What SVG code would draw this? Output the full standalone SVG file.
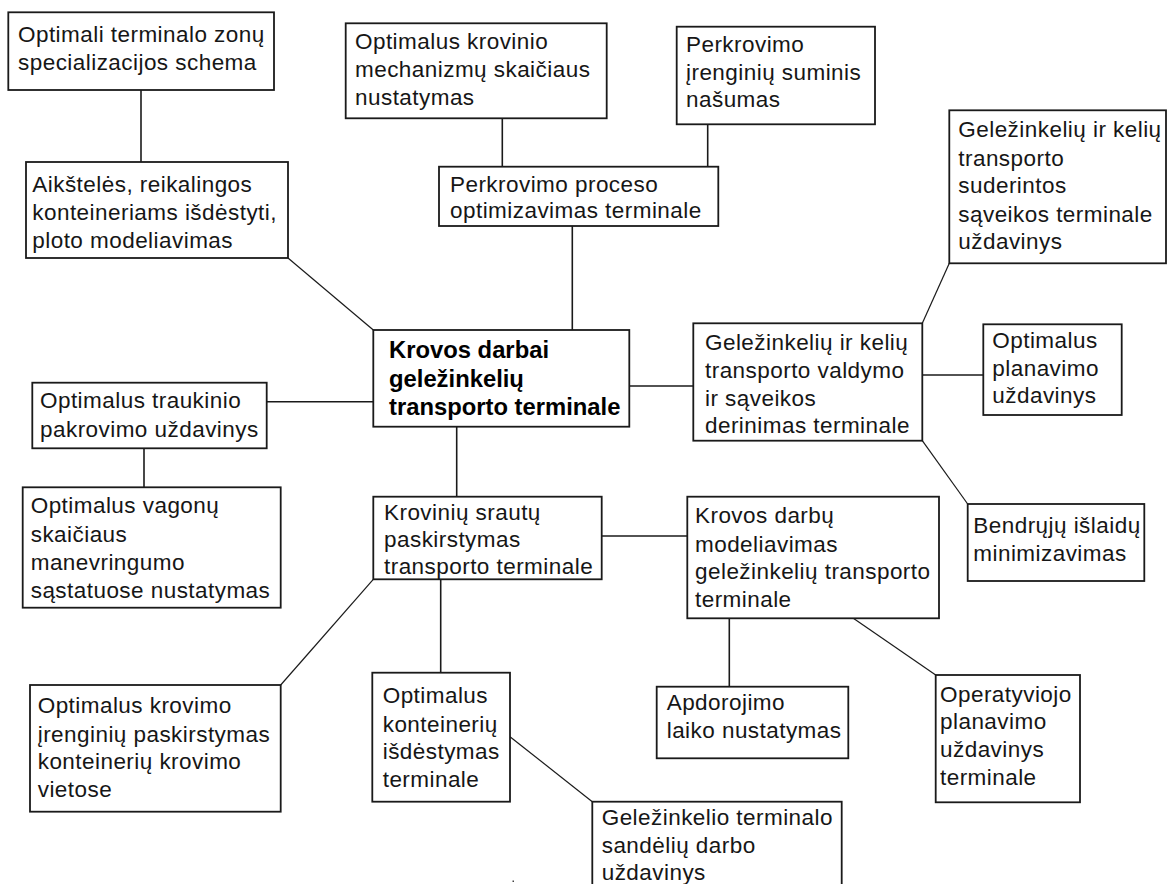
<svg xmlns="http://www.w3.org/2000/svg" width="1169" height="884" viewBox="0 0 1169 884">
  <style>
    .box { fill: #ffffff; stroke: #1a1a1a; stroke-width: 1.8; }
    .lbl { font-family: "Liberation Sans", Arial, sans-serif; font-size: 22.5px; letter-spacing: 0.45px; fill: #161616; }
    .lbl-main { font-family: "Liberation Sans", Arial, sans-serif; font-size: 23.8px; font-weight: bold; fill: #000000; }
    .link { stroke: #1a1a1a; stroke-width: 1.6; fill: none; }
    .link-d { stroke: #1a1a1a; stroke-width: 1.2; fill: none; }
  </style>
  <rect x="0" y="0" width="1169" height="884" fill="#ffffff"/>

  <!-- connectors -->
  <g id="connectors">
    <line class="link" x1="141" y1="90" x2="141" y2="162"/>
    <line class="link-d" x1="288" y1="258" x2="373.3" y2="330"/>
    <line class="link" x1="502.3" y1="118.3" x2="502.3" y2="166.7"/>
    <line class="link" x1="707.7" y1="124.3" x2="707.7" y2="166.7"/>
    <line class="link" x1="572.3" y1="226" x2="572.3" y2="330"/>
    <line class="link" x1="629.3" y1="386" x2="693.3" y2="386"/>
    <line class="link-d" x1="922.3" y1="323.3" x2="949.3" y2="263.3"/>
    <line class="link" x1="922.3" y1="375" x2="983.3" y2="375"/>
    <line class="link-d" x1="922.3" y1="440.7" x2="967.7" y2="504"/>
    <line class="link" x1="266.7" y1="401.7" x2="373.3" y2="401.7"/>
    <line class="link" x1="144" y1="448.3" x2="144" y2="487.3"/>
    <line class="link" x1="456.7" y1="426.7" x2="456.7" y2="496.7"/>
    <line class="link" x1="601.7" y1="536" x2="687.3" y2="536"/>
    <line class="link-d" x1="373.3" y1="579.3" x2="280.7" y2="685"/>
    <line class="link" x1="440.7" y1="579.3" x2="440.7" y2="672.7"/>
    <line class="link-d" x1="510" y1="736.7" x2="592.3" y2="801.7"/>
    <line class="link" x1="729.3" y1="618.3" x2="729.3" y2="686.7"/>
    <line class="link-d" x1="853.3" y1="618.3" x2="935.7" y2="675"/>
  </g>

  <!-- central node -->
  <g id="node-center">
    <rect class="box" x="373.3" y="330" width="256" height="96.7"/>
    <text class="lbl-main">
      <tspan x="389" y="357.5">Krovos darbai</tspan>
      <tspan x="389" y="386.5">geležinkelių</tspan>
      <tspan x="389" y="415">transporto terminale</tspan>
    </text>
  </g>

  <g id="node-zonu-schema">
    <rect class="box" x="8.3" y="12.3" width="265.7" height="77.7"/>
    <text class="lbl">
      <tspan x="18" y="41.5">Optimali terminalo zonų</tspan>
      <tspan x="18" y="70">specializacijos schema</tspan>
    </text>
  </g>

  <g id="node-aikSteles">
    <rect class="box" x="26" y="162" width="262" height="96"/>
    <text class="lbl">
      <tspan x="32.3" y="191.5">Aikštelės, reikalingos</tspan>
      <tspan x="32.3" y="220">konteineriams išdėstyti,</tspan>
      <tspan x="32.3" y="248.3">ploto modeliavimas</tspan>
    </text>
  </g>

  <g id="node-mechanizmu">
    <rect class="box" x="345.7" y="23.3" width="261" height="95"/>
    <text class="lbl">
      <tspan x="355" y="49.3">Optimalus krovinio</tspan>
      <tspan x="355" y="77.3">mechanizmų skaičiaus</tspan>
      <tspan x="355" y="105">nustatymas</tspan>
    </text>
  </g>

  <g id="node-suminis">
    <rect class="box" x="676.7" y="26.7" width="198.3" height="97.6"/>
    <text class="lbl">
      <tspan x="686" y="51.7">Perkrovimo</tspan>
      <tspan x="686" y="80">įrenginių suminis</tspan>
      <tspan x="686" y="107.3">našumas</tspan>
    </text>
  </g>

  <g id="node-perkrovimo">
    <rect class="box" x="439" y="166.7" width="279.3" height="59.3"/>
    <text class="lbl">
      <tspan x="450" y="191.5">Perkrovimo proceso</tspan>
      <tspan x="450" y="218.3">optimizavimas terminale</tspan>
    </text>
  </g>

  <g id="node-suderintos">
    <rect class="box" x="949.3" y="110.3" width="216.7" height="153"/>
    <text class="lbl">
      <tspan x="958.3" y="137.3">Geležinkelių ir kelių</tspan>
      <tspan x="958.3" y="165.5">transporto</tspan>
      <tspan x="958.3" y="193.3">suderintos</tspan>
      <tspan x="958.3" y="221.5">sąveikos terminale</tspan>
      <tspan x="958.3" y="249.3">uždavinys</tspan>
    </text>
  </g>

  <g id="node-valdymo">
    <rect class="box" x="693.3" y="323.3" width="229" height="117.4"/>
    <text class="lbl">
      <tspan x="705" y="350">Geležinkelių ir kelių</tspan>
      <tspan x="705" y="378.3">transporto valdymo</tspan>
      <tspan x="705" y="406">ir sąveikos</tspan>
      <tspan x="705" y="433.3">derinimas terminale</tspan>
    </text>
  </g>

  <g id="node-planavimo">
    <rect class="box" x="983.3" y="324.3" width="138.4" height="90.7"/>
    <text class="lbl">
      <tspan x="992.3" y="348.3">Optimalus</tspan>
      <tspan x="992.3" y="376">planavimo</tspan>
      <tspan x="992.3" y="403.3">uždavinys</tspan>
    </text>
  </g>

  <g id="node-islaidu">
    <rect class="box" x="967.7" y="504" width="176.6" height="77"/>
    <text class="lbl">
      <tspan x="973.3" y="533.3">Bendrųjų išlaidų</tspan>
      <tspan x="973.3" y="560.7">minimizavimas</tspan>
    </text>
  </g>

  <g id="node-traukinio">
    <rect class="box" x="32.3" y="382.7" width="234.4" height="65.6"/>
    <text class="lbl">
      <tspan x="40" y="408.3">Optimalus traukinio</tspan>
      <tspan x="40" y="436.7">pakrovimo uždavinys</tspan>
    </text>
  </g>

  <g id="node-vagonu">
    <rect class="box" x="22.7" y="487.3" width="258" height="120.4"/>
    <text class="lbl">
      <tspan x="30.7" y="513.3">Optimalus vagonų</tspan>
      <tspan x="30.7" y="541.7">skaičiaus</tspan>
      <tspan x="30.7" y="570">manevringumo</tspan>
      <tspan x="30.7" y="598.3">sąstatuose nustatymas</tspan>
    </text>
  </g>

  <g id="node-srautu">
    <rect class="box" x="373.3" y="496.7" width="228.4" height="82.6"/>
    <text class="lbl">
      <tspan x="384" y="520">Krovinių srautų</tspan>
      <tspan x="384" y="546.7">paskirstymas</tspan>
      <tspan x="384" y="574">transporto terminale</tspan>
    </text>
  </g>

  <g id="node-modeliavimas">
    <rect class="box" x="687.3" y="496.7" width="251.7" height="121.6"/>
    <text class="lbl">
      <tspan x="695" y="523.3">Krovos darbų</tspan>
      <tspan x="695" y="551.7">modeliavimas</tspan>
      <tspan x="695" y="579.3">geležinkelių transporto</tspan>
      <tspan x="695" y="606.7">terminale</tspan>
    </text>
  </g>

  <g id="node-krovimo-irenginiu">
    <rect class="box" x="30" y="685" width="250.7" height="126.7"/>
    <text class="lbl">
      <tspan x="37.7" y="713.3">Optimalus krovimo</tspan>
      <tspan x="37.7" y="741.7">įrenginių paskirstymas</tspan>
      <tspan x="37.7" y="769.3">konteinerių krovimo</tspan>
      <tspan x="37.7" y="797.3">vietose</tspan>
    </text>
  </g>

  <g id="node-konteineriu">
    <rect class="box" x="372.3" y="672.7" width="137.7" height="129"/>
    <text class="lbl">
      <tspan x="382.7" y="703.3">Optimalus</tspan>
      <tspan x="382.7" y="731.7">konteinerių</tspan>
      <tspan x="382.7" y="759">išdėstymas</tspan>
      <tspan x="382.7" y="786.7">terminale</tspan>
    </text>
  </g>

  <g id="node-sandeliu">
    <rect class="box" x="592.3" y="801.7" width="249.4" height="100"/>
    <text class="lbl">
      <tspan x="601.7" y="825">Geležinkelio terminalo</tspan>
      <tspan x="601.7" y="852.7">sandėlių darbo</tspan>
      <tspan x="601.7" y="880">uždavinys</tspan>
    </text>
  </g>

  <g id="node-apdorojimo">
    <rect class="box" x="656.7" y="686.7" width="191.6" height="71.6"/>
    <text class="lbl">
      <tspan x="666.7" y="710">Apdorojimo</tspan>
      <tspan x="666.7" y="738.3">laiko nustatymas</tspan>
    </text>
  </g>

  <g id="node-operatyviojo">
    <rect class="box" x="935.7" y="675" width="144.3" height="127.3"/>
    <text class="lbl">
      <tspan x="940" y="701.7">Operatyviojo</tspan>
      <tspan x="940" y="729.3">planavimo</tspan>
      <tspan x="940" y="757.3">uždavinys</tspan>
      <tspan x="940" y="785">terminale</tspan>
    </text>
  </g>

  <!-- stray dot near the lower edge -->
  <rect x="512.5" y="880.5" width="1.5" height="1.5" fill="#444444"/>
</svg>
